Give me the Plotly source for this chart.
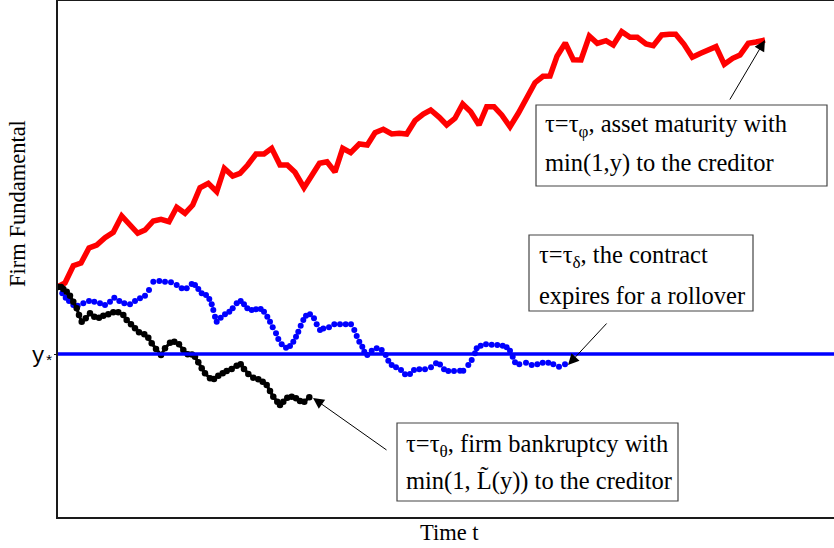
import plotly.graph_objects as go

# ---- data (time t, firm fundamental value) ----
red_t = [0, 7, 15.3, 23, 31, 38.7, 47, 55.3, 63.7, 79.7, 87, 95.3, 103, 111, 118.7, 127, 134.7, 142, 150.3,
         158.7, 166.3, 174.7, 182, 189.7, 198, 206, 213.7, 222, 229.3, 237, 246, 253.7, 261.5, 269, 277,
         284.7, 292.7, 301.3, 309.3, 317, 325.3, 333.7, 341.3, 348.7, 357, 365.3, 372.7, 381.3, 388.7, 397,
         404.7, 412.7, 421, 428.7, 436, 443.7, 452, 460.3, 468.7, 477, 485, 492, 499, 507.3, 515.3, 523,
         531.3, 539.3, 548, 555.3, 563.7, 572, 579.3, 588, 595.3, 603.7, 611.3, 617.7, 626, 634.3, 642.7,
         650.3, 658, 666.3, 674.7, 682, 690.3, 698, 707]
red_v = [230.3, 234, 251.3, 254, 269, 272, 279.3, 284.7, 301, 283.7, 287, 296, 297.7, 295.3, 309.7, 303.7, 312,
         329.3, 333.7, 325.3, 348.7, 341, 343.7, 352, 363, 363, 368.7, 352, 352, 344.7, 329.3, 340.3, 353.7,
         355.3, 345, 368.7, 364.3, 373, 372, 384.3, 387.7, 383, 383.7, 383, 396.3, 403, 407, 399.7, 392,
         398.7, 413, 405.3, 392, 410.3, 410.3, 402, 390.3, 403.7, 418.7, 434.3, 440.7, 441, 460.7, 474,
         457.3, 457, 481, 473.7, 476.3, 472, 485.3, 479.7, 479.7, 473, 471.3, 482, 482.7, 482.7, 472.7,
         459.7, 463.7, 467.7, 470.3, 452.7, 458.7, 462, 473.7, 475, 477]

blue_t = [0, 4.3, 7.7, 11, 15.3, 19.7, 25.3, 31, 36.3, 42, 47, 52, 56.3, 61.3, 66.3, 72, 77, 82, 87, 91,
          95.3, 101.3, 107, 113, 118.7, 123.7, 128.7, 133.7, 137, 140.3, 143.7, 148, 151.3, 153.7, 155.3,
          157, 158.7, 162.7, 167, 171.3, 174.7, 178.7, 182.7, 186, 189.3, 193.7, 198, 202.7, 206, 209.3,
          212, 214.7, 218, 220.3, 223.7, 228, 232, 235.3, 238, 240.3, 242.7, 245.3, 248, 252, 256, 258.7,
          262, 265.3, 271, 276.3, 282, 287.7, 293, 296.3, 298.7, 301.3, 304.3, 306.3, 309.3, 313.7, 318.7,
          323.7, 327.7, 330.3, 333.7, 338, 343, 347, 352, 356, 361.3, 367, 373, 378, 382, 386, 390.3, 396,
          402, 405.3, 410.3, 413.7, 417, 418.7, 422.7, 428, 433.7, 439.3, 444.7, 448.7, 452, 454.7, 457,
          461.3, 468, 473.7, 479.3, 484.7, 490.3, 495.3, 501, 507]
blue_v = [230, 223.7, 219.3, 216, 212, 211.3, 213.7, 216, 215.3, 213.7, 212, 215.3, 219.3, 216, 213.7, 212.7,
          216, 218.7, 221.3, 227, 235.3, 236, 235.3, 234.7, 232, 228.7, 228.7, 233, 232, 228, 223.7, 222,
          218, 212.7, 207, 200.3, 195.3, 199.3, 202.7, 205.3, 208.7, 213.7, 216, 212.7, 208.7, 207, 207.7,
          208, 205.3, 200.3, 195.3, 189.7, 183.7, 178, 172.7, 169.3, 171, 175.3, 180.3, 185.3, 191.3, 197,
          201.3, 202.7, 198.7, 192.7, 187, 188.5, 189.7, 192.7, 192.7, 192.7, 192.7, 187, 181, 175.3, 170.3,
          165.3, 162, 166.3, 168.7, 167, 162, 156.3, 152, 149.7, 147, 142.7, 143, 147, 147.7, 147.7, 149.7,
          153.7, 152.5, 147.7, 146, 146, 146.3, 146.3, 152, 157, 163.7, 168.7, 171.3, 172.7, 172.3, 172,
          171.3, 169.7, 166.3, 160.3, 154.7, 152.7, 154.3, 152, 152.7, 154.3, 154.3, 152.7, 150.3, 152.7]

black_t = [0, 3, 5.3, 8.7, 12, 15.3, 18.7, 21, 23.7, 27.7, 32, 36.3, 41, 45.3, 50.3, 55.3, 60.3, 65.3, 68.7,
           73, 77, 81, 86.3, 90.3, 93.7, 98, 103, 107, 112, 116.3, 121, 125.3, 129.7, 134, 137, 140.3, 143.7,
           147, 152, 156, 160.3, 164.7, 168.7, 173.7, 178.7, 182.7, 186, 190.3, 195.3, 200.3, 204.7, 208.7,
           212, 215.3, 219.3, 222, 225.3, 229.3, 233.7, 238, 242, 246.3, 251.3]
black_v = [230, 230, 228, 225.3, 221.3, 215.3, 208.7, 202, 195.3, 198.7, 203.7, 200.3, 199.3, 201.3, 202.7,
           204.7, 204.7, 202, 197, 192.7, 188.7, 184.7, 182.7, 179.3, 173.7, 168, 162, 168.7, 174.3, 175.3,
           172.7, 167, 162.7, 162.5, 160.3, 154.7, 148.7, 143.7, 138.7, 138, 141.3, 143.7, 146, 148, 151.3,
           152.7, 148, 143, 139.3, 137.7, 135.3, 132, 126, 120.3, 115.3, 112, 115.3, 119.3, 120.3, 118.7, 116,
           115.3, 119.7]

Y_STAR = 163
y_tick_text = ["y<sub>*</sub>"]

SERIF = "Liberation Serif"

fig = go.Figure()
fig.add_trace(go.Scatter(x=red_t, y=red_v, mode="lines",
                         line=dict(color="#FF0000", width=5.5), showlegend=False))
fig.add_trace(go.Scatter(x=blue_t, y=blue_v, mode="markers",
                         marker=dict(color="#0000FF", size=6, line=dict(width=0)), showlegend=False))
fig.add_trace(go.Scatter(x=black_t, y=black_v, mode="lines+markers",
                         line=dict(color="black", width=3),
                         marker=dict(color="black", size=6.5, line=dict(width=0)), showlegend=False))

fig.add_hline(y=Y_STAR, line=dict(color="#0000FF", width=3.5))

# text boxes
box_style = dict(type="rect", xref="x", yref="y", line=dict(color="#444444", width=1.2), fillcolor="white", layer="above")
fig.add_shape(x0=478, x1=769, y0=331, y1=412, **box_style)
fig.add_shape(x0=471, x1=695, y0=206, y1=282, **box_style)
fig.add_shape(x0=339, x1=620, y0=16, y1=94, **box_style)

tfont = dict(family=SERIF, size=24.5, color="black")
lines = [
    (484.5, 392, "τ=τ<sub>φ</sub>, asset maturity with"),
    (484.5, 354, "min(1,y) to the creditor"),
    (478.5, 261, "τ=τ<sub>δ</sub>, the contract"),
    (478.5, 222, "expires for a rollover"),
    (346, 72, "τ=τ<sub>θ</sub>, firm bankruptcy with"),
    (346, 36, "min(1, L\u0303(y)) to the creditor"),
]
for x, y, s in lines:
    fig.add_annotation(x=x, y=y, xref="x", yref="y", text=s, showarrow=False,
                       xanchor="left", yanchor="middle", font=tfont)

arrows = [(707, 477, 671, 416), (510, 152, 550, 195), (255, 119, 330, 66)]
for x, y, ax, ay in arrows:
    fig.add_annotation(x=x, y=y, ax=ax, ay=ay, xref="x", yref="y", axref="x", ayref="y",
                       text="", showarrow=True, arrowhead=2, arrowsize=2.2, arrowwidth=1,
                       arrowcolor="black", standoff=0, startstandoff=0)

# axis titles
fig.add_annotation(xref="paper", yref="paper", x=0, y=0.6066, xshift=-40, text="Firm Fundamental",
                   textangle=-90, showarrow=False, font=dict(family=SERIF, size=22.5, color="black"),
                   xanchor="center", yanchor="middle")
fig.add_annotation(xref="paper", yref="paper", x=0.505, y=0, yshift=-15, text="Time t",
                   showarrow=False, font=dict(family=SERIF, size=22.5, color="black"),
                   xanchor="center", yanchor="middle")

fig.update_xaxes(range=[0, 776], showgrid=False, zeroline=False, showticklabels=False, automargin=False,
                 showline=True, linecolor="#1a1a1a", linewidth=1.5, mirror=True, ticks="")
fig.update_yaxes(range=[0, 516], showgrid=False, zeroline=False, automargin=False,
                 tickvals=[Y_STAR], ticktext=y_tick_text, ticks="outside", ticklen=2, tickcolor="#1a1a1a",
                 ticklabelstandoff=-4,
                 tickfont=dict(family="Liberation Mono", size=22, color="black"),
                 showline=True, linecolor="#1a1a1a", linewidth=1.5, mirror=False)

fig.update_layout(width=834, height=548, margin=dict(l=58, r=0, t=1, b=31, autoexpand=False),
                  template="none", plot_bgcolor="white", paper_bgcolor="white")

fig.write_html("out.html", config={"displayModeBar": False},
               post_script="document.body.style.margin='0px';")
